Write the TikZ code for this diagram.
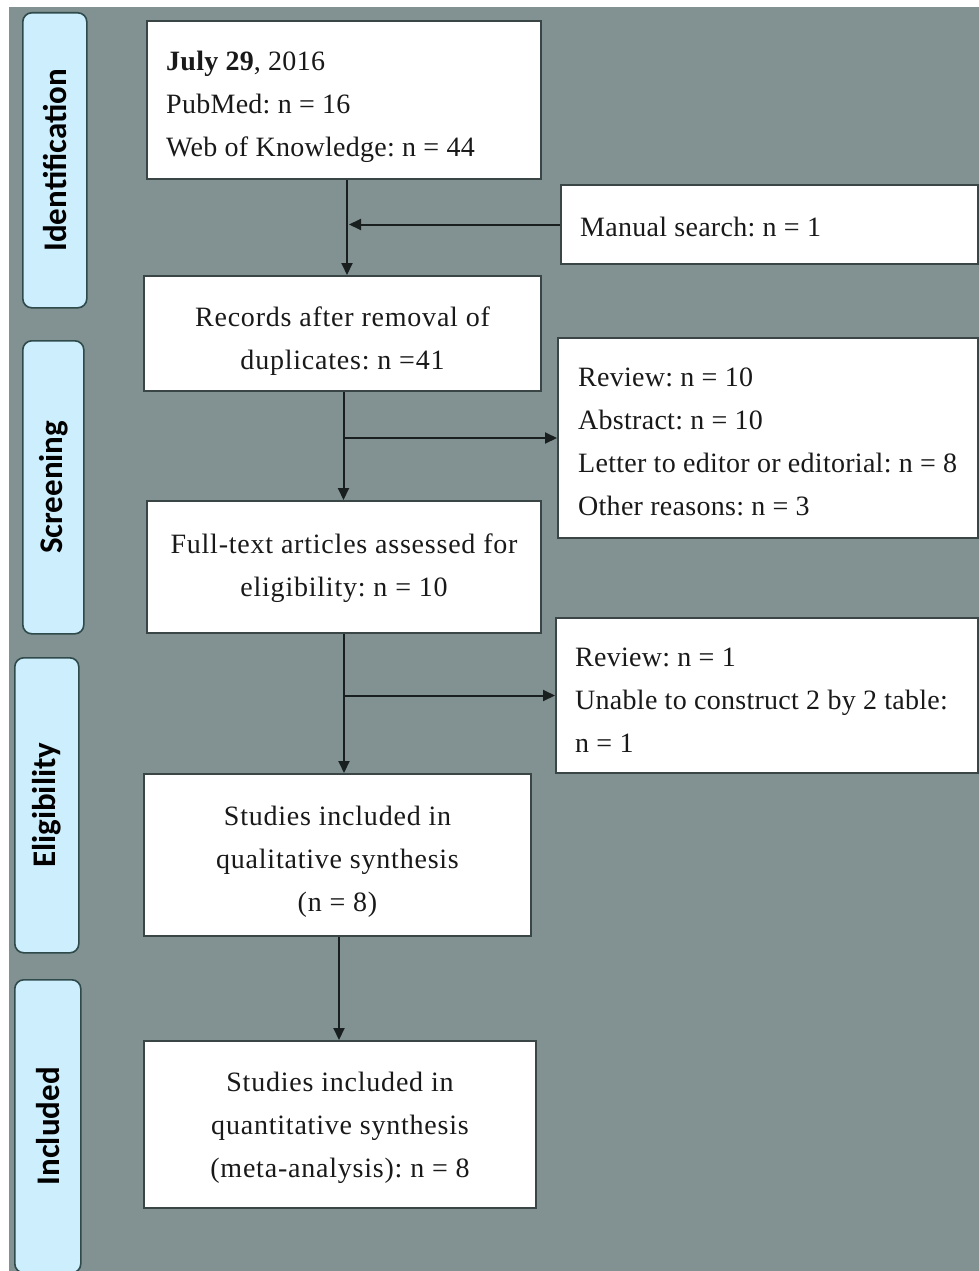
\documentclass[tikz,border=0pt]{standalone}
\usepackage{fontspec}
\setmainfont{Liberation Serif}
\newfontfamily\lfont[LetterSpace=1]{Liberation Serif}
\newfontfamily\cfont[LetterSpace=2.8]{Liberation Serif}
\newfontfamily\sidefont{Carlito}
\usetikzlibrary{arrows.meta}
\definecolor{bggray}{RGB}{130,145,145}
\definecolor{sidefill}{RGB}{205,238,252}
\definecolor{sideline}{RGB}{46,74,74}
\definecolor{boxline}{RGB}{58,70,70}
\definecolor{arrline}{RGB}{25,30,30}
\definecolor{txtcol}{RGB}{25,25,25}
\tikzset{
  frame/.style={draw=boxline, line width=2pt, fill=white, inner sep=0pt, anchor=north west},
  txt/.style={inner sep=0pt, text=txtcol},
  ltxt/.style={txt, align=flush left, anchor=west, font=\lfont\fontsize{28}{43}\selectfont\frenchspacing},
  ctxt/.style={txt, align=center, anchor=center, font=\cfont\fontsize{28}{43}\selectfont\frenchspacing},
  side/.style={draw=sideline, line width=1.6pt, fill=sidefill, rounded corners=9pt, anchor=north west,
    inner sep=0pt},
  sidetext/.style={rotate=90, font=\sidefont\fontsize{33}{38}\selectfont\bfseries, text=black},
  arr/.style={draw=arrline, line width=2pt, -{Triangle[length=12pt,width=11pt]}},
}
\begin{document}
\begin{tikzpicture}[x=1pt,y=-1pt]
\useasboundingbox (0,0) rectangle (979,1271);
\fill[white] (0,0) rectangle (979,1271);
\fill[bggray] (9,7) rectangle (979,1271);

% side labels
\node[side, minimum width=64pt, minimum height=295pt] (sid) at (22,12) {};
\node[sidetext] (sidt) at (sid.center) {Identification};
\node[side, minimum width=61pt, minimum height=293pt] (sscr) at (22,340) {};
\node[sidetext] (sscrt) at (sscr.center) {Screening};
\node[side, minimum width=64pt, minimum height=295pt] (selig) at (14,657) {};
\node[sidetext] (seligt) at (selig.center) {Eligibility};
\node[side, minimum width=66pt, minimum height=293pt] (sinc) at (14,979) {};
\node[sidetext] (sinct) at (sinc.center) {Included};

% main boxes
\node[frame, minimum width=394pt, minimum height=158pt] (b1) at (146,20) {};
\node[ltxt] (b1t) at ([xshift=20pt,yshift=-7pt]b1.west)
  {\textbf{July 29}, 2016\\PubMed: n = 16\\Web of Knowledge: n = 44};
\node[frame, minimum width=417pt, minimum height=79pt] (man) at (560,184) {};
\node[ltxt] (mant) at ([xshift=20pt,yshift=-2pt]man.west) {Manual search: n = 1};
\node[frame, minimum width=397pt, minimum height=115pt] (b2) at (143,275) {};
\node[ctxt] (b2t) at ([yshift=-8pt]b2.center) {Records after removal of\\duplicates: n =41};
\node[frame, minimum width=420pt, minimum height=200pt] (ex1) at (557,337) {};
\node[ltxt] (ex1t) at ([xshift=21pt,yshift=-4pt]ex1.west)
  {Review: n = 10\\Abstract: n = 10\\Letter to editor or editorial: n = 8\\Other reasons: n = 3};
\node[frame, minimum width=394pt, minimum height=132pt] (b3) at (146,500) {};
\node[ctxt] (b3t) at ([yshift=-1pt]b3.center) {Full-text articles assessed for\\eligibility: n = 10};
\node[frame, minimum width=422pt, minimum height=155pt] (ex2) at (555,617) {};
\node[ltxt] (ex2t) at ([xshift=20pt,yshift=-5pt]ex2.west)
  {Review: n = 1\\Unable to construct 2 by 2 table:\\n = 1};
\node[frame, minimum width=387pt, minimum height=162pt] (b4) at (143,773) {};
\node[ctxt] (b4t) at ([yshift=-7pt]b4.center) {Studies included in\\qualitative synthesis\\(n = 8)};
\node[frame, minimum width=392pt, minimum height=167pt] (b5) at (143,1040) {};
\node[ctxt] (b5t) at ([yshift=-3pt]b5.center) {Studies included in\\quantitative synthesis\\(meta-analysis): n = 8};

% connectors
\coordinate (t1) at ([xshift=3pt]b1.south);
\draw[arr] (t1) -- (t1 |- b2.north);
\draw[arr] (man.west) -- ([xshift=2pt]t1 |- man.west);
\coordinate (t2) at ([xshift=1pt]b2.south);
\draw[arr] (t2) -- (t2 |- b3.north);
\draw[arr] (t2 |- ex1.west) -- (ex1.west);
\coordinate (t3) at (b3.south);
\draw[arr] (t3) -- (t3 |- b4.north);
\draw[arr] (t3 |- ex2.west) -- (ex2.west);
\coordinate (t4) at ([xshift=1.5pt]b4.south);
\draw[arr] (t4) -- (t4 |- b5.north);
\end{tikzpicture}
\end{document}
